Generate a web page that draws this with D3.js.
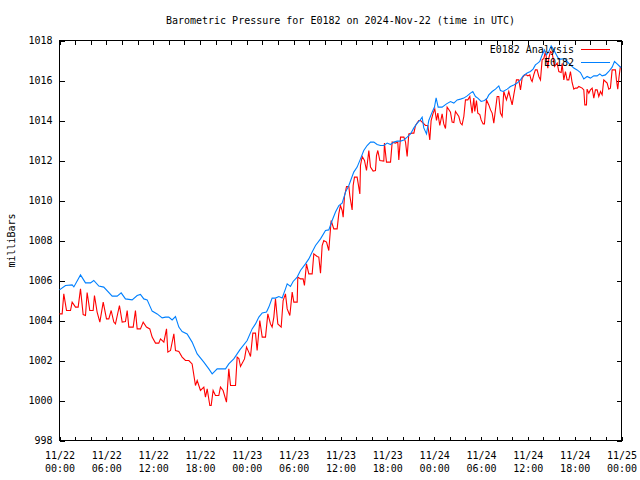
<!DOCTYPE html>
<html>
<head>
<meta charset="utf-8">
<script src="https://cdn.jsdelivr.net/npm/d3@7"></script>
<style>
  html, body { margin: 0; padding: 0; background: #fff; }
  svg { display: block; }
  text { font-family: "DejaVu Sans Mono", "Liberation Mono", monospace; font-size: 10px; fill: #000; }
</style>
</head>
<body>
<svg id="chart" width="640" height="480"></svg>
<script>
// ---- data (hours after 2024-11-22 00:00 UTC, pressure in mb) ----
const startDate = "2024-11-22T00:00:00Z";
const endDate = "2024-11-25T00:00:00Z";

const obsHours = [0,0.77,1.62,1.84,2.69,3.33,3.97,4.39,5.04,5.67,6.75,7.39,7.9,8.45,9.31,9.95,10.37,10.8,11.23,11.87,12.51,13.15,13.58,14.0,14.43,14.86,15.29,15.71,16.35,16.99,17.64,18.49,19.13,19.56,20.2,21.27,21.69,22.33,23.1,24.04,24.68,25.11,25.54,25.97,26.52,26.82,27.24,27.67,28.1,28.53,28.95,29.17,29.59,29.93,30.45,30.87,31.51,31.94,32.37,32.8,33.44,34.08,34.5,34.93,35.36,35.79,36.21,36.64,37.07,37.7,38.13,38.56,38.98,39.41,39.84,40.27,40.69,41.12,41.55,41.98,42.41,42.83,43.26,43.69,44.12,44.54,44.97,45.4,45.83,46.16,46.46,46.67,47.02,47.31,47.74,48.04,48.25,48.51,49.02,49.58,50.09,50.52,50.95,51.37,51.8,52.23,52.65,52.95,53.29,53.59,54.02,54.45,54.79,55.0,55.43,55.85,56.28,56.49,56.84,57.35,57.77,58.2,58.63,59.06,59.4,59.91,60.33,60.67,60.97,61.27,61.53,61.83,62.13,62.39,62.69,62.99,63.33,63.67,63.97,64.27,64.69,65.03,65.46,65.89,66.31,66.74,67.17,67.59,68.02,68.45,68.88,69.22,69.52,69.94,70.37,70.8,71.1,71.44,71.78,71.95];
const obsValues = [1005.53,1005.75,1005.78,1005.68,1006.28,1005.88,1005.88,1006.0,1005.72,1005.67,1005.22,1005.22,1005.38,1005.08,1005.03,1005.25,1005.3,1005.08,1005.03,1004.47,1004.33,1004.13,1004.17,1004.17,1004.03,1004.2,1003.67,1003.45,1003.33,1002.92,1002.33,1001.92,1001.58,1001.33,1001.58,1001.58,1001.83,1002.08,1002.53,1003.0,1003.58,1003.83,1004.17,1004.38,1004.42,1004.67,1005.12,1005.12,1005.2,1005.13,1005.58,1005.83,1005.7,1005.95,1006.17,1006.5,1006.83,1007.08,1007.42,1007.75,1008.08,1008.5,1008.53,1009.0,1009.42,1009.75,1009.87,1010.42,1010.75,1011.42,1011.67,1012.08,1012.5,1012.75,1012.92,1012.92,1012.8,1012.75,1012.75,1012.87,1012.8,1012.92,1012.97,1012.97,1013.03,1013.17,1013.33,1013.63,1013.87,1014.0,1014.17,1013.63,1013.33,1014.0,1014.42,1014.67,1015.13,1014.67,1014.67,1014.83,1014.95,1014.87,1015.03,1015.07,1015.12,1015.23,1015.37,1015.45,1015.2,1015.12,1014.95,1015.0,1015.12,1015.28,1015.45,1015.57,1015.73,1015.5,1015.45,1015.57,1015.7,1015.78,1015.87,1016.03,1016.23,1016.37,1016.45,1016.57,1016.78,1016.87,1016.95,1017.28,1017.53,1017.28,1017.45,1017.73,1017.53,1017.28,1017.07,1017.07,1017.1,1016.95,1016.78,1016.62,1016.53,1016.4,1016.08,1016.2,1016.12,1016.23,1016.23,1016.33,1016.23,1016.28,1016.45,1016.67,1016.95,1016.83,1016.7,1016.65];

const anaHours = [0,0.34,0.55,0.9,1.41,1.62,2.05,2.39,2.69,3.03,3.33,3.54,3.88,4.31,4.48,4.82,5.17,5.6,6.02,6.32,6.62,6.96,7.17,7.68,8.03,8.45,8.67,8.88,9.44,9.73,9.95,10.37,10.72,11.14,11.57,11.87,12.3,12.72,12.94,13.37,13.71,13.88,14.22,14.65,14.86,15.29,15.71,16.14,16.57,16.99,17.42,17.64,18.06,18.49,18.7,18.92,19.26,19.43,19.68,19.98,20.41,20.62,20.96,21.39,21.69,21.91,22.55,22.76,22.98,23.19,23.7,23.96,24.25,24.47,24.77,25.11,25.32,25.66,25.97,26.39,26.69,27.03,27.24,27.46,27.67,27.97,28.4,28.65,28.95,29.17,29.51,29.81,30.02,30.45,30.53,30.87,31.21,31.38,31.64,31.94,32.37,32.58,33.01,33.22,33.44,33.65,33.86,34.21,34.5,34.8,35.14,35.57,35.78,35.99,36.21,36.34,36.51,36.77,37.07,37.19,37.49,37.62,37.79,38.13,38.48,38.56,38.78,39.07,39.33,39.63,39.84,40.18,40.48,40.61,40.78,41.04,41.55,41.63,41.89,42.41,42.62,43.04,43.34,43.47,43.69,44.12,44.33,44.54,44.75,45.18,45.4,45.61,46.03,46.25,46.46,46.89,47.19,47.44,47.61,47.87,48.08,48.3,48.47,48.72,49.02,49.23,49.45,49.66,49.87,50.09,50.3,50.52,50.73,51.16,51.37,51.58,51.8,52.01,52.31,52.57,52.74,52.86,53.08,53.2,53.42,53.59,53.85,54.02,54.27,54.44,54.7,55.0,55.22,55.43,55.64,55.85,56.07,56.28,56.49,56.71,56.92,57.26,57.56,57.77,57.99,58.2,58.54,58.84,59.06,59.27,59.57,59.82,59.99,60.25,60.42,60.55,60.76,60.97,61.19,61.41,61.62,61.83,62.05,62.26,62.56,62.69,62.9,63.12,63.41,63.76,63.97,64.27,64.39,64.61,64.82,65.03,65.25,65.46,65.67,65.89,66.1,66.31,66.53,66.96,67.17,67.3,67.51,67.59,67.81,68.02,68.24,68.45,68.66,68.88,69.09,69.31,69.52,69.73,69.94,70.16,70.37,70.58,70.8,71.01,71.22,71.35,71.52,71.69,71.86];
const anaValues = [1004.33,1004.33,1005.33,1004.5,1004.5,1004.92,1004.67,1004.67,1005.58,1004.3,1004.25,1005.4,1004.5,1004.5,1005.25,1004.42,1003.92,1004.92,1004.08,1004.08,1004.5,1003.92,1003.83,1004.75,1003.92,1003.95,1004.5,1003.67,1003.67,1004.5,1003.58,1003.58,1003.92,1003.67,1003.58,1003.17,1002.87,1002.87,1003.08,1002.92,1003.58,1002.42,1002.5,1003.33,1002.5,1002.45,1002.17,1002.0,1002.0,1001.83,1000.75,1001.0,1000.5,1000.67,1000.17,1000.58,999.75,999.75,1000.5,1000.25,1000.25,1000.67,1000.5,999.92,1001.58,1000.75,1000.75,1002.17,1002.1,1001.7,1002.08,1002.67,1002.42,1002.2,1003.37,1003.37,1002.5,1004.0,1003.17,1003.17,1004.33,1003.83,1003.67,1004.17,1005.08,1003.83,1003.67,1005.0,1005.33,1004.58,1004.25,1005.42,1004.92,1004.92,1006.17,1006.08,1006.08,1005.75,1006.83,1006.33,1006.33,1007.33,1007.2,1007.17,1006.37,1007.75,1008.0,1007.92,1007.5,1009.0,1008.58,1008.58,1009.33,1009.75,1009.5,1009.17,1010.2,1010.7,1010.7,1010.25,1009.53,1010.75,1011.17,1011.17,1010.33,1011.75,1012.2,1012.0,1011.5,1012.5,1011.67,1011.47,1011.5,1012.25,1012.5,1012.0,1011.97,1012.87,1011.92,1011.92,1012.92,1012.87,1012.92,1012.03,1013.17,1013.17,1012.92,1012.2,1013.33,1013.37,1013.37,1013.75,1014.0,1014.0,1013.92,1013.75,1013.75,1013.03,1014.0,1014.37,1014.58,1014.0,1014.37,1013.75,1014.33,1013.83,1013.6,1014.67,1014.55,1014.42,1013.92,1013.9,1014.45,1014.2,1013.87,1013.78,1014.2,1015.03,1015.03,1015.2,1014.7,1014.37,1015.12,1014.45,1015.0,1014.37,1014.3,1014.03,1013.83,1013.83,1015.03,1014.78,1014.53,1014.37,1013.87,1014.53,1015.2,1015.2,1014.37,1014.2,1015.45,1015.03,1015.45,1015.12,1014.78,1015.28,1016.03,1016.03,1015.53,1016.12,1016.28,1016.28,1016.23,1016.28,1016.03,1015.95,1016.28,1016.53,1016.53,1016.2,1016.03,1017.03,1017.1,1017.45,1016.62,1017.12,1017.45,1017.37,1016.7,1016.87,1016.45,1016.4,1016.85,1016.03,1016.45,1016.03,1016.03,1016.45,1015.9,1015.57,1015.62,1015.62,1015.7,1015.62,1015.53,1014.78,1014.78,1015.57,1015.37,1015.53,1015.62,1015.12,1015.53,1015.53,1015.2,1015.45,1015.28,1016.03,1015.95,1015.87,1015.57,1015.62,1016.53,1016.53,1016.53,1016.03,1015.57,1016.2,1016.7];

const yTicks = [998,1000,1002,1004,1006,1008,1010,1012,1014,1016,1018];
const xMinorStepHours = 2;
const xLabelStepHours = 6;

const titleText = "Barometric Pressure for E0182 on 2024-Nov-22 (time in UTC)";
const yLabelText = "milliBars";
const seriesNames = ["E0182 Analysis", "E0182"];
const seriesColors = ["#ff0000", "#0080ff"];

(function draw() {
  const svg = d3.select("#chart");
  const L = 59.5, R = 621.5, T = 40.5, B = 440.5;

  const t0 = new Date(startDate), t1 = new Date(endDate);
  const toDate = h => new Date(t0.getTime() + h * 3600e3);

  const x = d3.scaleUtc().domain([t0, t1]).range([L, R]);
  const y = d3.scaleLinear().domain([998, 1018]).range([B, T]);

  svg.append("rect").attr("width", 640).attr("height", 480).attr("fill", "#fff");

  const tickDates = d3.utcHour.every(xMinorStepHours).range(t0, new Date(t1.getTime() + 1));
  const fmtDay = d3.utcFormat("%m/%d"), fmtTime = d3.utcFormat("%H:%M");
  const isLabel = d => d.getUTCHours() % xLabelStepHours === 0;

  const gBottom = svg.append("g").attr("transform", `translate(0,${B})`)
    .call(d3.axisBottom(x).tickValues(tickDates).tickSizeInner(-4).tickSizeOuter(0).tickPadding(6)
      .tickFormat(d => isLabel(d) ? fmtDay(d) : ""));
  gBottom.selectAll(".tick text").each(function(d) {
    const t = d3.select(this);
    t.text(null).attr("y", 0).attr("dy", null);
    if (!isLabel(d)) return;
    t.append("tspan").attr("x", 0).attr("y", 18).text(fmtDay(d));
    t.append("tspan").attr("x", 0).attr("y", 31).text(fmtTime(d));
  });

  svg.append("g").attr("transform", `translate(0,${T})`)
    .call(d3.axisTop(x).tickValues(tickDates).tickSizeInner(-4).tickSizeOuter(0).tickFormat(""));

  svg.append("g").attr("transform", `translate(${L},0)`)
    .call(d3.axisLeft(y).tickValues(yTicks).tickSizeInner(-5).tickSizeOuter(0).tickPadding(7)
      .tickFormat(d3.format("d")));

  svg.append("g").attr("transform", `translate(${R},0)`)
    .call(d3.axisRight(y).tickValues(yTicks).tickSizeInner(-5).tickSizeOuter(0).tickFormat(""));

  svg.selectAll(".domain").remove();
  svg.selectAll(".tick line").attr("stroke", "#000").attr("shape-rendering", "crispEdges");
  svg.selectAll(".tick text").attr("font-family", null).attr("font-size", null).attr("fill", "#000");

  svg.append("rect").attr("x", L).attr("y", T).attr("width", R - L).attr("height", B - T)
    .attr("fill", "none").attr("stroke", "#000").attr("shape-rendering", "crispEdges");

  const line = d3.line().x(d => x(toDate(d[0]))).y(d => y(d[1]));
  const anaData = anaHours.map((h, i) => [h, anaValues[i]]);
  const obsData = obsHours.map((h, i) => [h, obsValues[i]]);

  svg.append("path").datum(anaData).attr("d", line)
    .attr("fill", "none").attr("stroke", seriesColors[0]).attr("stroke-width", 1.1);
  svg.append("path").datum(obsData).attr("d", line)
    .attr("fill", "none").attr("stroke", seriesColors[1]).attr("stroke-width", 1.1);

  seriesNames.forEach((name, i) => {
    const yy = 49 + i * 13;
    svg.append("text").attr("x", 574).attr("y", yy).attr("dy", "0.35em")
      .attr("text-anchor", "end").text(name);
    svg.append("line").attr("x1", 581).attr("x2", 610).attr("y1", yy + 0.5).attr("y2", yy + 0.5)
      .attr("stroke", seriesColors[i]).attr("stroke-width", 1).attr("shape-rendering", "crispEdges");
  });

  svg.append("text").attr("x", (L + R) / 2).attr("y", 20).attr("dy", "0.35em")
    .attr("text-anchor", "middle").text(titleText);
  svg.append("text").attr("transform", `translate(11,${(T + B) / 2}) rotate(-90)`)
    .attr("dy", "0.35em").attr("text-anchor", "middle").text(yLabelText);
})();
</script>
</body>
</html>
